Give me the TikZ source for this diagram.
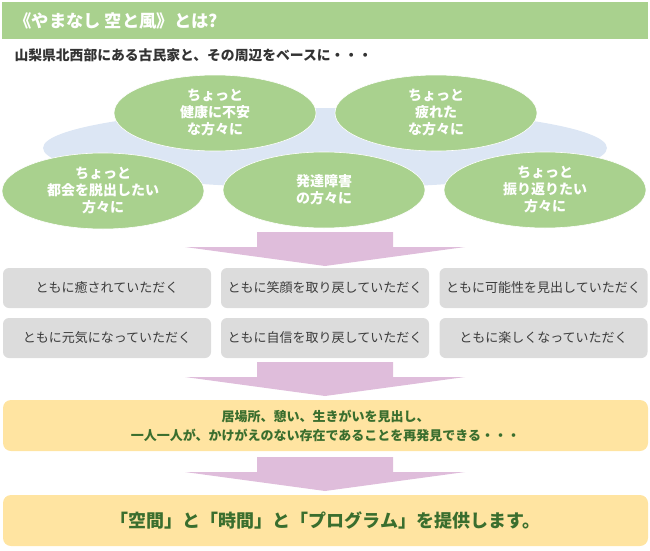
\documentclass[tikz,border=0pt]{standalone}
\usepackage{fontspec}
\setmainfont{Noto Sans CJK JP}
\usepackage{xcolor}
\usepackage{tikz}
\usetikzlibrary{shapes.geometric}
\definecolor{LeafGreen}{HTML}{A9D18E}
\definecolor{SkyBlue}{HTML}{DCE6F4}
\definecolor{ArrowPink}{HTML}{DFBDDB}
\definecolor{BoxGray}{HTML}{DCDCDC}
\definecolor{TextGray}{HTML}{3C3C3C}
\definecolor{Butter}{HTML}{FFE4A1}
\definecolor{DeepGreen}{HTML}{3A6E2E}

\begin{document}
\begin{tikzpicture}[x=1pt, y=-1pt,
    bubble/.style={ellipse, fill=LeafGreen, draw=white, line width=0.6pt,
      minimum width=202pt, minimum height=76pt, inner sep=0pt, align=center,
      text=white, font=\fontsize{14}{17}\selectfont\bfseries},
    goalbox/.style={rectangle, rounded corners=6pt, fill=BoxGray,
      minimum width=208pt, minimum height=40pt, inner sep=0pt,
      text=TextGray, font=\fontsize{13}{16}\selectfont},
    resultbox/.style={rectangle, rounded corners=8pt, fill=Butter,
      minimum width=645pt, minimum height=51pt, inner sep=0pt, align=center,
      text=DeepGreen},
    pics/bigarrow/.style={code={
      \fill[ArrowPink] (-68,0) -- (68,0) -- (68,15) -- (140,15)
        -- (0,34) -- (-140,15) -- (-68,15) -- cycle;}}]
    \useasboundingbox (0,0) rectangle (650,551);

    % title bar
    \node[rectangle, fill=LeafGreen, minimum width=646pt, minimum height=37pt,
          inner sep=0pt] (titlebar) at (325,20.5) {};
    \node[anchor=west, text=white, font=\fontsize{17.3}{20}\selectfont\bfseries]
          (title) at (11,20.5) {《やまなし 空と風》とは?};
    \node[anchor=west, text=black!80, font=\fontsize{13.8}{15}\selectfont\bfseries]
          (lead) at (11,55) {山梨県北西部にある古民家と、その周辺をベースに・・・};

    % people
    \node[ellipse, fill=SkyBlue, minimum width=564pt, minimum height=80pt]
          (base) at (325,148) {};
    \node[bubble] (health) at (215,113) {ちょっと\\健康に不安\\な方々に};
    \node[bubble] (tired)  at (436,113) {ちょっと\\疲れた\\な方々に};
    \node[bubble] (city)   at (103,191) {ちょっと\\都会を脱出したい\\方々に};
    \node[bubble] (dev)    at (324,190) {発達障害\\の方々に};
    \node[bubble] (look)   at (545,190) {ちょっと\\振り返りたい\\方々に};

    \pic at (325,232) {bigarrow};

    % goals
    \foreach \name/\x/\y/\txt in {
        heal/107/288/ともに癒されていただく,
        smile/325/288/ともに笑顔を取り戻していただく,
        able/543.5/288/ともに可能性を見出していただく,
        energy/107/338/ともに元気になっていただく,
        trust/325/338/ともに自信を取り戻していただく,
        fun/543.5/338/ともに楽しくなっていただく} {
      \node[goalbox] (\name) at (\x,\y) {\txt};
    }

    \pic at (325,362) {bigarrow};

    \node[resultbox, font=\fontsize{13}{19}\selectfont\bfseries] (place) at (325.5,425.5)
          {居場所、憩い、生きがいを見出し、\\一人一人が、かけがえのない存在であることを再発見できる・・・};

    \pic at (325,457) {bigarrow};

    \node[resultbox, font=\fontsize{18}{20}\selectfont\bfseries] (offer) at (325.5,520.5)
          {「空間」と「時間」と「プログラム」を提供します。};
  \end{tikzpicture}
\end{document}
